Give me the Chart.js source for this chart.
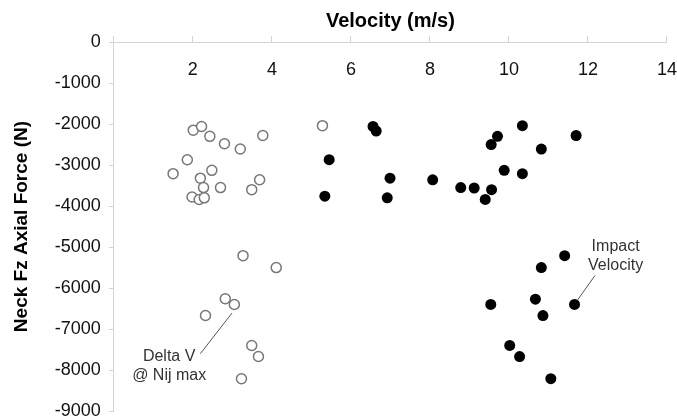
<!DOCTYPE html>
<html>
<head>
<meta charset="utf-8">
<script src="https://cdn.jsdelivr.net/npm/chart.js@4/dist/chart.umd.min.js"></script>
<style>
  html, body { margin: 0; padding: 0; background: #fff; }
  #wrap { width: 677px; height: 420px; }
</style>
</head>
<body>
<div id="wrap"><canvas id="velChart"></canvas></div>
<script>
'use strict';

// Delta V @ Nij max (open circles)
const deltaVSpeed = [2.01, 2.22, 2.43, 2.80, 3.20, 3.77, 1.86, 1.50, 2.19, 2.48, 2.27, 2.70, 1.98,
  2.16, 2.29, 3.49, 3.69, 5.28, 3.27, 4.11, 2.82, 3.05, 2.32, 3.49, 3.66, 3.23];
const deltaVForce = [-2150, -2060, -2300, -2480, -2610, -2280, -2870, -3210, -3320, -3130, -3550, -3550, -3780,
  -3840, -3800, -3600, -3360, -2040, -5210, -5500, -6260, -6400, -6670, -7400, -7670, -8210];

// Impact velocity (filled circles)
const impactSpeed = [6.56, 6.64, 5.45, 5.34, 6.99, 6.92, 8.07, 8.78, 9.12, 9.56, 9.40, 9.71, 9.55, 10.34,
  10.82, 11.70, 9.88, 10.34, 11.41, 10.82, 9.54, 10.67, 11.66, 10.86, 10.02, 10.27, 11.06];
const impactForce = [-2060, -2170, -2870, -3760, -3320, -3800, -3360, -3550, -3560, -3600, -3840, -2300, -2500, -2040,
  -2610, -2280, -3130, -3210, -5210, -5500, -6400, -6270, -6400, -6670, -7400, -7670, -8210];

const xTicks = [0, 2, 4, 6, 8, 10, 12, 14];
const yTicks = [0, -1000, -2000, -3000, -4000, -5000, -6000, -7000, -8000, -9000];

// callout labels, anchored in data units
const callouts = [
  { lines: ['Delta V', '@ Nij max'], at: [1.40, -7666], from: [2.19, -7600], to: [2.99, -6610] },
  { lines: ['Impact', 'Velocity'], at: [12.70, -4983], from: [12.18, -5690], to: [11.73, -6300] }
];

const FONT = '"Liberation Sans", Arial, sans-serif';

function toPoints(xs, ys) {
  return xs.map((x, i) => ({ x: x, y: ys[i] }));
}

const calloutPlugin = {
  id: 'callouts',
  afterDatasetsDraw(chart) {
    const { ctx, scales: { x, y } } = chart;
    ctx.save();
    ctx.font = '16px ' + FONT;
    ctx.fillStyle = '#333';
    ctx.strokeStyle = '#555';
    ctx.lineWidth = 1;
    ctx.textAlign = 'center';
    ctx.textBaseline = 'middle';
    callouts.forEach(c => {
      const cx = x.getPixelForValue(c.at[0]);
      const cy = y.getPixelForValue(c.at[1]);
      c.lines.forEach((txt, i) => ctx.fillText(txt, cx, cy + i * 19));
      ctx.beginPath();
      ctx.moveTo(x.getPixelForValue(c.from[0]), y.getPixelForValue(c.from[1]));
      ctx.lineTo(x.getPixelForValue(c.to[0]), y.getPixelForValue(c.to[1]));
      ctx.stroke();
    });
    ctx.restore();
  }
};

function drawChart() {
  const ctx = document.getElementById('velChart').getContext('2d');

  new Chart(ctx, {
    type: 'scatter',
    data: {
      datasets: [{
        label: 'Delta V @ Nij max',
        data: toPoints(deltaVSpeed, deltaVForce),
        pointRadius: 5,
        pointBorderWidth: 1.5,
        borderColor: '#777',
        backgroundColor: '#fff'
      }, {
        label: 'Impact Velocity',
        data: toPoints(impactSpeed, impactForce),
        pointRadius: 5.5,
        pointBorderWidth: 0,
        borderColor: '#000',
        backgroundColor: '#000'
      }]
    },
    options: {
      responsive: true,
      maintainAspectRatio: false,
      animation: false,
      layout: { padding: { top: 0, left: 5, right: 0, bottom: 0 } },
      plugins: {
        legend: { display: false },
        tooltip: { enabled: false },
        title: {
          display: true,
          text: 'Velocity (m/s)',
          fullSize: false,
          color: '#000',
          font: { family: FONT, size: 20, weight: 'bold' },
          padding: { top: 9, bottom: 9 }
        }
      },
      scales: {
        x: {
          type: 'linear',
          position: { y: 0 },
          min: 0,
          max: 14,
          afterBuildTicks: axis => { axis.ticks = xTicks.map(v => ({ value: v })); },
          ticks: {
            color: '#111',
            // tall line box pushes the labels down below the top axis line
            font: { family: FONT, size: 18, lineHeight: 3.9 },
            padding: 0,
            maxRotation: 0,
            callback: v => (v === 0 ? '' : String(v))
          },
          grid: { drawOnChartArea: false, drawTicks: true, tickLength: -7, color: '#d4d4d4' },
          border: { color: '#d4d4d4', width: 1 }
        },
        y: {
          type: 'linear',
          position: 'left',
          min: -9000,
          max: 0,
          afterBuildTicks: axis => { axis.ticks = yTicks.map(v => ({ value: v })); },
          ticks: {
            color: '#111',
            font: { family: FONT, size: 18, lineHeight: 0.1 },
            padding: 8,
            callback: v => String(v)
          },
          grid: { drawOnChartArea: false, drawTicks: true, tickLength: 5, color: '#d4d4d4' },
          border: { color: '#d4d4d4', width: 1 },
          title: {
            display: true,
            text: 'Neck Fz Axial Force (N)',
            color: '#000',
            font: { family: FONT, size: 19, weight: 'bold' },
            padding: { top: 5, bottom: 14 }
          }
        }
      }
    },
    plugins: [calloutPlugin]
  });
}

drawChart();
</script>
</body>
</html>
